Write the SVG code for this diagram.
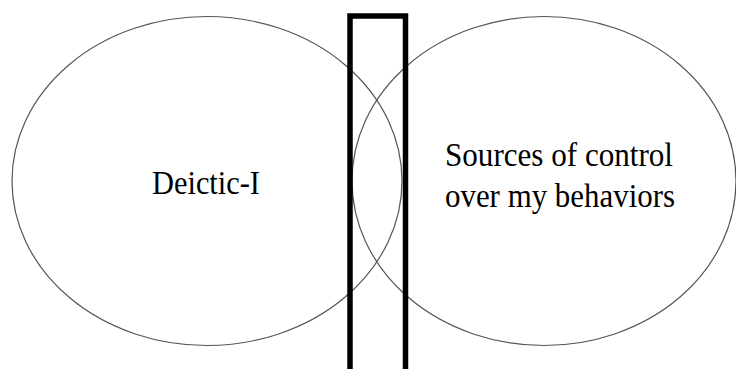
<svg xmlns="http://www.w3.org/2000/svg" width="736" height="369" viewBox="0 0 736 369">
<style>
.ell{fill:none;stroke:#555;stroke-width:1.2}
.lbl{font-family:"Liberation Serif","Times New Roman",serif;font-size:33px;fill:#000;text-anchor:middle}
.bar{fill:none;stroke:#000;stroke-width:5.5}
</style>
<rect width="736" height="369" fill="#fff"/>
<g id="deictic-i">
<ellipse class="ell" cx="207" cy="181" rx="195" ry="164.5"/>
<text class="lbl" x="206" y="194" textLength="108" lengthAdjust="spacingAndGlyphs">Deictic-I</text>
</g>
<g id="sources">
<ellipse class="ell" cx="544" cy="181" rx="192" ry="164.5"/>
<text class="lbl" x="559" y="166" textLength="228" lengthAdjust="spacingAndGlyphs">Sources of control</text>
<text class="lbl" x="560" y="207" textLength="230" lengthAdjust="spacingAndGlyphs">over my behaviors</text>
</g>
<g id="barrier">
<rect class="bar" x="350" y="16" width="55.5" height="380"/>
</g>
<g id="connectors"></g>
</svg>
